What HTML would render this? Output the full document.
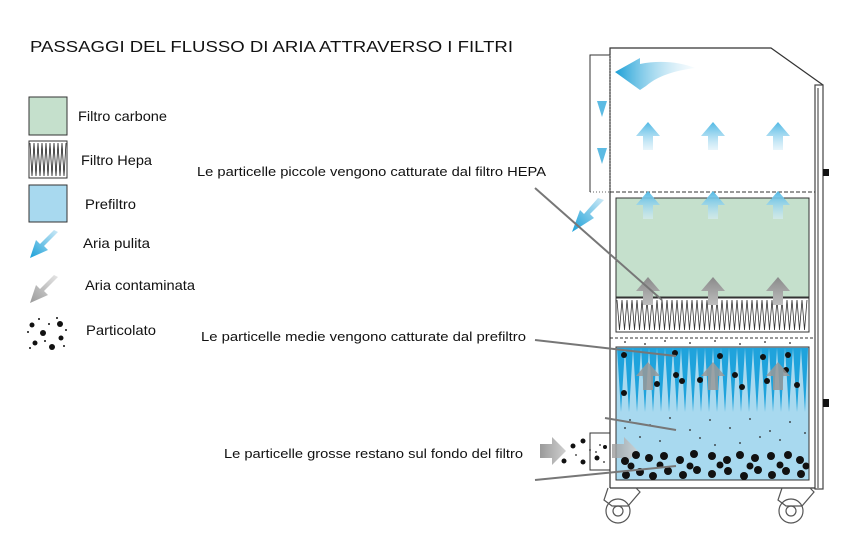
<!DOCTYPE html>
<html><head><meta charset="utf-8"><style>
html,body{margin:0;padding:0;background:#fff;width:868px;height:541px;overflow:hidden}
svg{display:block}
text{font-family:"Liberation Sans",Arial,sans-serif;fill:#111}
</style></head><body>
<svg width="868" height="541" viewBox="0 0 868 541" xmlns="http://www.w3.org/2000/svg">
<defs>
<linearGradient id="bu" x1="0" y1="0" x2="0" y2="1"><stop offset="0" stop-color="#4fb8e4"/><stop offset="1" stop-color="#d8eef8" stop-opacity="0.6"/></linearGradient>
<linearGradient id="gu" x1="0" y1="0" x2="0" y2="1"><stop offset="0" stop-color="#8a8a8a"/><stop offset="1" stop-color="#bdbdbd"/></linearGradient>
<linearGradient id="bl" x1="0" y1="0" x2="1" y2="0"><stop offset="0" stop-color="#1a9fd6"/><stop offset="1" stop-color="#e6f4fb" stop-opacity="0.3"/></linearGradient>
<linearGradient id="dg" x1="0" y1="1" x2="1" y2="0"><stop offset="0" stop-color="#1aa0d8"/><stop offset="1" stop-color="#cfeaf7"/></linearGradient>
<linearGradient id="dgg" x1="0" y1="1" x2="1" y2="0"><stop offset="0" stop-color="#9a9a9a"/><stop offset="1" stop-color="#e6e6e6"/></linearGradient>
<linearGradient id="gr" x1="0" y1="0" x2="1" y2="0"><stop offset="0" stop-color="#9a9a9a"/><stop offset="1" stop-color="#d0d0d0"/></linearGradient>
<path id="up" d="M0,-14 L-12,0 L-5,0 L-5,14 L5,14 L5,0 L12,0 Z"/>
</defs>

<text x="30" y="52" font-size="16" textLength="483" lengthAdjust="spacingAndGlyphs">PASSAGGI DEL FLUSSO DI ARIA ATTRAVERSO I FILTRI</text>

<!-- legend -->
<rect x="29" y="97" width="38" height="38" fill="#c5e0cc" stroke="#333" stroke-width="1"/>
<text x="78" y="121" font-size="14" textLength="89" lengthAdjust="spacingAndGlyphs">Filtro carbone</text>
<rect x="29" y="141" width="38" height="37" fill="#fff" stroke="#333" stroke-width="1"/>
<polyline fill="none" stroke="#222" stroke-width="0.8" points="30,143 32,176 34,143 36,176 38,143 40,176 42,143 44,176 46,143 48,176 50,143 52,176 54,143 56,176 58,143 60,176 62,143 64,176 66,143"/>
<text x="81" y="165" font-size="14" textLength="71" lengthAdjust="spacingAndGlyphs">Filtro Hepa</text>
<rect x="29" y="185" width="38" height="37" fill="#a8d9ef" stroke="#333" stroke-width="1"/>
<text x="85" y="209" font-size="14" textLength="51" lengthAdjust="spacingAndGlyphs">Prefiltro</text>
<path d="M58,232 L44,246 L48,250 L30,258 L36,240 L40,244 L54,230 Z" fill="url(#dg)"/>
<text x="83" y="248" font-size="14" textLength="67" lengthAdjust="spacingAndGlyphs">Aria pulita</text>
<path d="M58,277 L44,291 L48,295 L30,303 L36,285 L40,289 L54,275 Z" fill="url(#dgg)"/>
<text x="85" y="290" font-size="14" textLength="110" lengthAdjust="spacingAndGlyphs">Aria contaminata</text>
<g fill="#111">
<circle cx="32" cy="325" r="2.5"/><circle cx="43" cy="333" r="3"/><circle cx="60" cy="324" r="3"/><circle cx="35" cy="343" r="2.5"/><circle cx="52" cy="347" r="3"/><circle cx="61" cy="338" r="2.5"/>
<circle cx="28" cy="332" r="1"/><circle cx="39" cy="319" r="1"/><circle cx="49" cy="324" r="1"/><circle cx="66" cy="330" r="1"/><circle cx="30" cy="348" r="1"/><circle cx="45" cy="341" r="1"/><circle cx="64" cy="346" r="1"/><circle cx="57" cy="318" r="1"/>
</g>
<text x="86" y="335" font-size="14" textLength="70" lengthAdjust="spacingAndGlyphs">Particolato</text>

<!-- labels -->
<text x="197" y="176" font-size="13" textLength="349" lengthAdjust="spacingAndGlyphs">Le particelle piccole vengono catturate dal filtro HEPA</text>
<text x="201" y="341" font-size="13" textLength="325" lengthAdjust="spacingAndGlyphs">Le particelle medie vengono catturate dal prefiltro</text>
<text x="224" y="458" font-size="13" textLength="299" lengthAdjust="spacingAndGlyphs">Le particelle grosse restano sul fondo del filtro</text>

<!-- cabinet -->
<path d="M610,488 L610,48 L771,48 L823,85" fill="none" stroke="#333" stroke-width="1.2"/>
<rect x="815" y="85" width="8" height="404" fill="#fff" stroke="#444" stroke-width="1.2"/>
<line x1="818" y1="88" x2="818" y2="488" stroke="#999" stroke-width="2"/>
<rect x="823" y="169" width="6" height="7" fill="#111"/>
<rect x="823" y="399" width="6" height="8" fill="#111"/>
<line x1="610" y1="488" x2="815" y2="488" stroke="#333" stroke-width="1.2"/>
<path d="M610,55 L590,55 L590,192" fill="none" stroke="#333" stroke-width="1"/>
<line x1="610" y1="55" x2="610" y2="192" stroke="#777" stroke-width="0.8" stroke-dasharray="1,2"/>
<line x1="590" y1="192" x2="610" y2="192" stroke="#333" stroke-width="0.8" stroke-dasharray="1,2"/>
<line x1="610" y1="192" x2="815" y2="192" stroke="#333" stroke-width="1" stroke-dasharray="4,2"/>

<!-- carbon -->
<rect x="616" y="198" width="193" height="99" fill="#c5e0cc" stroke="#333" stroke-width="1"/>
<!-- hepa -->
<rect x="616" y="298" width="193" height="34" fill="#fff" stroke="#333" stroke-width="1"/>
<polyline fill="none" stroke="#333" stroke-width="0.8" points="617,300 619.5,330 622,300 624.5,330 627,300 629.5,330 632,300 634.5,330 637,300 639.5,330 642,300 644.5,330 647,300 649.5,330 652,300 654.5,330 657,300 659.5,330 662,300 664.5,330 667,300 669.5,330 672,300 674.5,330 677,300 679.5,330 682,300 684.5,330 687,300 689.5,330 692,300 694.5,330 697,300 699.5,330 702,300 704.5,330 707,300 709.5,330 712,300 714.5,330 717,300 719.5,330 722,300 724.5,330 727,300 729.5,330 732,300 734.5,330 737,300 739.5,330 742,300 744.5,330 747,300 749.5,330 752,300 754.5,330 757,300 759.5,330 762,300 764.5,330 767,300 769.5,330 772,300 774.5,330 777,300 779.5,330 782,300 784.5,330 787,300 789.5,330 792,300 794.5,330 797,300 799.5,330 802,300 804.5,330 807,300"/>
<line x1="610" y1="338" x2="815" y2="338" stroke="#333" stroke-width="1" stroke-dasharray="3,2"/>

<!-- prefilter -->
<rect x="616" y="347" width="193" height="133" fill="#a8d9ef" stroke="#333" stroke-width="1"/>
<path fill="#1fa3dc" d="M617,348 L621,412 L625,348 L629,412 L633,348 L637,412 L641,348 L645,412 L649,348 L653,412 L657,348 L661,412 L665,348 L669,412 L673,348 L677,412 L681,348 L685,412 L689,348 L693,412 L697,348 L701,412 L705,348 L709,412 L713,348 L717,412 L721,348 L725,412 L729,348 L733,412 L737,348 L741,412 L745,348 L749,412 L753,348 L757,412 L761,348 L765,412 L769,348 L773,412 L777,348 L781,412 L785,348 L789,412 L793,348 L797,412 L801,348 L805,412 L808,348 Z"/>

<!-- wheels -->
<g fill="none" stroke="#555" stroke-width="1.2">
<path d="M608,488 L604,500 L612,506 L628,506 L640,492 L636,488"/>
<circle cx="618" cy="511" r="12"/><circle cx="618" cy="511" r="5"/>
<path d="M782,488 L778,500 L786,506 L802,506 L814,492 L810,488"/>
<circle cx="791" cy="511" r="12"/><circle cx="791" cy="511" r="5"/>
</g>

<!-- inlet -->
<path d="M610,433 L590,433 L590,470 L610,470" fill="none" stroke="#333" stroke-width="1"/>
<path d="M540,444 L552,444 L552,437 L566,451 L552,465 L552,458 L540,458 Z" fill="url(#gr)"/>
<path d="M612,444 L624,444 L624,437 L638,451 L624,465 L624,458 L612,458 Z" fill="url(#gr)" opacity="0.8"/>

<!-- particles -->
<g fill="#111">
<circle cx="573" cy="446" r="2.5"/><circle cx="583" cy="441" r="2.5"/><circle cx="564" cy="461" r="2.5"/><circle cx="583" cy="462" r="2.5"/><circle cx="597" cy="458" r="2.5"/><circle cx="605" cy="447" r="2"/>
<circle cx="625" cy="461" r="4"/><circle cx="636" cy="455" r="4"/><circle cx="649" cy="458" r="4"/><circle cx="664" cy="456" r="4"/><circle cx="680" cy="460" r="4"/><circle cx="694" cy="454" r="4"/><circle cx="712" cy="456" r="4"/><circle cx="727" cy="460" r="4"/><circle cx="740" cy="455" r="4"/><circle cx="755" cy="458" r="4"/><circle cx="771" cy="456" r="4"/><circle cx="788" cy="455" r="4"/><circle cx="800" cy="460" r="4"/>
<circle cx="626" cy="475" r="4"/><circle cx="640" cy="472" r="4"/><circle cx="653" cy="476" r="4"/><circle cx="668" cy="471" r="4"/><circle cx="683" cy="475" r="4"/><circle cx="697" cy="470" r="4"/><circle cx="712" cy="474" r="4"/><circle cx="728" cy="471" r="4"/><circle cx="744" cy="476" r="4"/><circle cx="758" cy="470" r="4"/><circle cx="772" cy="475" r="4"/><circle cx="786" cy="471" r="4"/><circle cx="801" cy="474" r="4"/>
<circle cx="631" cy="466" r="3.5"/><circle cx="660" cy="465" r="3.5"/><circle cx="690" cy="466" r="3.5"/><circle cx="720" cy="465" r="3.5"/><circle cx="750" cy="466" r="3.5"/><circle cx="780" cy="465" r="3.5"/><circle cx="806" cy="466" r="3.5"/>
<circle cx="624" cy="355" r="3"/><circle cx="675" cy="353" r="3"/><circle cx="676" cy="375" r="3"/><circle cx="720" cy="356" r="3"/><circle cx="735" cy="375" r="3"/><circle cx="763" cy="357" r="3"/><circle cx="788" cy="355" r="3"/><circle cx="797" cy="385" r="3"/><circle cx="786" cy="370" r="3"/><circle cx="624" cy="393" r="3"/><circle cx="657" cy="384" r="3"/><circle cx="682" cy="381" r="3"/><circle cx="742" cy="387" r="3"/><circle cx="767" cy="381" r="3"/><circle cx="700" cy="380" r="3"/>
</g>
<g fill="#222">
<circle cx="630" cy="420" r="0.9"/><circle cx="650" cy="425" r="0.9"/><circle cx="670" cy="418" r="0.9"/><circle cx="690" cy="430" r="0.9"/><circle cx="710" cy="420" r="0.9"/><circle cx="730" cy="428" r="0.9"/><circle cx="750" cy="419" r="0.9"/><circle cx="770" cy="431" r="0.9"/><circle cx="790" cy="422" r="0.9"/><circle cx="640" cy="437" r="0.9"/><circle cx="660" cy="441" r="0.9"/><circle cx="700" cy="438" r="0.9"/><circle cx="740" cy="443" r="0.9"/><circle cx="780" cy="440" r="0.9"/><circle cx="805" cy="433" r="0.9"/><circle cx="625" cy="428" r="0.9"/><circle cx="715" cy="445" r="0.9"/><circle cx="760" cy="437" r="0.9"/>
<circle cx="625" cy="342" r="0.9"/><circle cx="645" cy="344" r="0.9"/><circle cx="665" cy="341" r="0.9"/><circle cx="690" cy="343" r="0.9"/><circle cx="715" cy="341" r="0.9"/><circle cx="740" cy="344" r="0.9"/><circle cx="765" cy="342" r="0.9"/><circle cx="790" cy="343" r="0.9"/>
<circle cx="600" cy="445" r="0.9"/><circle cx="596" cy="452" r="0.9"/><circle cx="604" cy="462" r="0.9"/><circle cx="576" cy="455" r="0.9"/><circle cx="590" cy="450" r="0.9"/>
</g>

<!-- arrows -->
<g fill="url(#bu)">
<use href="#up" x="648" y="136"/><use href="#up" x="713" y="136"/><use href="#up" x="778" y="136"/>
<use href="#up" x="648" y="205"/><use href="#up" x="713" y="205"/><use href="#up" x="778" y="205"/>
</g>
<g fill="url(#gu)">
<use href="#up" x="648" y="291"/><use href="#up" x="713" y="291"/><use href="#up" x="778" y="291"/>
</g>
<g fill="#999" opacity="0.85">
<use href="#up" x="648" y="376"/><use href="#up" x="713" y="376"/><use href="#up" x="778" y="376"/>
</g>
<path d="M615,72 L640,58 L640,64 C660,60 680,62 695,68 C680,70 660,74 646,86 L640,90 Z" fill="url(#bl)"/>
<path d="M597,101 L607,101 L602,117 Z" fill="#5dbbe3"/>
<path d="M597,148 L607,148 L602,164 Z" fill="#5dbbe3"/>
<path d="M604,200 L590,214 L594,218 L572,232 L580,210 L584,214 L598,198 Z" fill="url(#dg)"/>

<!-- leader lines -->
<g stroke="#777" stroke-width="2">
<line x1="535" y1="188" x2="662" y2="300"/>
<line x1="535" y1="340" x2="676" y2="356"/>
<line x1="605" y1="418" x2="676" y2="430"/>
<line x1="535" y1="480" x2="676" y2="466"/>
</g>
</svg>
</body></html>
